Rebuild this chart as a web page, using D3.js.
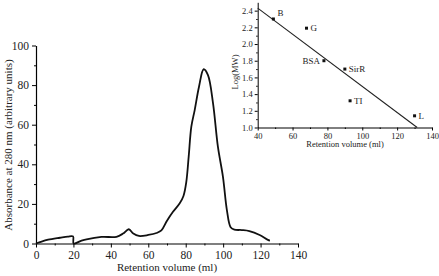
<!DOCTYPE html>
<html lang="en">
<head>
<meta charset="utf-8">
<script src="https://d3js.org/d3.v7.min.js"></script>
<style>
  body { margin: 0; background: #fff; }
  svg text { font-family: "Liberation Serif", "DejaVu Serif", serif; fill: #222; }
</style>
</head>
<body>
<svg id="chart" width="439" height="276"></svg>
<script>
// elution profile (retention volume ml, absorbance)
const volume = [0, 3, 6.5, 12.8, 17, 19.8, 20.1, 24, 27, 35, 43, 46.5, 49.6, 52, 55, 60, 64.4, 67, 70, 73.2, 76.8, 78.8, 80.3, 81.6, 83, 84.8, 87.1, 89.6, 91.9, 94.6, 97.2, 99.9, 102, 104, 106, 110, 114, 119.5, 123.9, 125];
const absorb = [0, 1, 1.9, 2.9, 3.5, 3.6, 0, 1.3, 2.1, 3.3, 3.4, 5, 7.2, 5, 3.8, 4.3, 5.3, 6.6, 11.5, 16, 20.3, 24, 31, 44, 59, 67.4, 79.2, 88, 85, 70.8, 48.9, 33.7, 16.9, 8.2, 7, 6.8, 6.3, 4.3, 1.8, 1.5];

// calibration standards
const stdNames = ["B", "G", "BSA", "SirR", "TI", "L"];
const stdVolume = [49, 68, 78, 90, 93, 130];
const stdLogMW = [2.3, 2.19, 1.8, 1.7, 1.32, 1.14];
// fitted line endpoints
const fitVolume = [40, 131.5];
const fitLogMW = [2.43, 1.0];

const svg = d3.select("#chart");

// ---- main chart
const x = d3.scaleLinear().domain([0, 140]).range([36, 298]);
const y = d3.scaleLinear().domain([0, 100]).range([243.5, 45.5]);

const xAx = svg.append("g").attr("transform", "translate(0,243.5)")
  .call(d3.axisBottom(x).tickValues(d3.range(0, 141, 20)).tickSize(4).tickSizeOuter(0).tickPadding(3));
svg.append("g").attr("transform", "translate(0,243.5)")
  .call(d3.axisBottom(x).tickValues(d3.range(10, 140, 20)).tickSize(2).tickFormat(""))
  .select(".domain").remove();
const yAx = svg.append("g").attr("transform", "translate(36,0)")
  .call(d3.axisLeft(y).tickValues(d3.range(0, 101, 20)).tickSize(4).tickSizeOuter(0).tickPadding(3));
svg.append("g").attr("transform", "translate(36,0)")
  .call(d3.axisLeft(y).tickValues(d3.range(10, 100, 20)).tickSize(2).tickFormat(""))
  .select(".domain").remove();
[xAx, yAx].forEach(g => {
  g.selectAll("text").style("font-size", "11.5px").style("font-family", "Liberation Serif");
  g.select(".domain").attr("stroke-width", 1.2);
});

svg.append("text")
  .attr("x", 167).attr("y", 271)
  .attr("text-anchor", "middle")
  .style("font-size", "11px")
  .text("Retention volume (ml)");
svg.append("text")
  .attr("transform", "translate(12,145) rotate(-90)")
  .attr("text-anchor", "middle")
  .style("font-size", "11px")
  .text("Absorbance at 280 nm (arbitrary units)");

const profile = volume.map((v, i) => ({v: v, a: absorb[i]}));
svg.append("path")
  .datum(profile)
  .attr("fill", "none")
  .attr("stroke", "#111")
  .attr("stroke-width", 1.8)
  .attr("stroke-linejoin", "round")
  .attr("d", d3.line().x(d => x(d.v)).y(d => y(d.a)).curve(d3.curveCatmullRom.alpha(0.5)));

// ---- inset calibration chart
const ix = d3.scaleLinear().domain([40, 140]).range([257.7, 432]);
const iy = d3.scaleLinear().domain([1.0, 2.5]).range([127.5, 2.3]);

const ixAx = svg.append("g").attr("transform", "translate(0,127.5)")
  .call(d3.axisBottom(ix).tickValues(d3.range(40, 141, 20)).tickSize(3).tickSizeOuter(0).tickPadding(2));
svg.append("g").attr("transform", "translate(0,127.5)")
  .call(d3.axisBottom(ix).tickValues(d3.range(50, 140, 20)).tickSize(1.5).tickFormat(""))
  .select(".domain").remove();
const iyAx = svg.append("g").attr("transform", "translate(257.7,0)")
  .call(d3.axisLeft(iy).tickValues(d3.range(1.0, 2.41, 0.2)).tickSize(3).tickSizeOuter(0).tickPadding(2).tickFormat(d3.format(".1f")));
svg.append("g").attr("transform", "translate(257.7,0)")
  .call(d3.axisLeft(iy).tickValues(d3.range(1.1, 2.5, 0.2)).tickSize(1.5).tickFormat(""))
  .select(".domain").remove();
[ixAx, iyAx].forEach(g => {
  g.selectAll("text").style("font-size", "8.5px").style("font-family", "Liberation Serif");
});

svg.append("text")
  .attr("x", 345).attr("y", 147)
  .attr("text-anchor", "middle")
  .style("font-size", "8.5px")
  .text("Retention volume (ml)");
svg.append("text")
  .attr("transform", "translate(238,72) rotate(-90)")
  .attr("text-anchor", "middle")
  .style("font-size", "8.5px")
  .text("Log(MW)");

svg.append("line")
  .attr("x1", ix(fitVolume[0])).attr("y1", iy(fitLogMW[0]))
  .attr("x2", ix(fitVolume[1])).attr("y2", iy(fitLogMW[1]))
  .attr("stroke", "#222").attr("stroke-width", 1.1);

const stds = stdNames.map((n, i) => ({n: n, v: stdVolume[i], m: stdLogMW[i]}));
svg.selectAll(".std").data(stds).join("rect")
  .attr("class", "std")
  .attr("x", d => ix(d.v) - 1.5).attr("y", d => iy(d.m) - 1.5)
  .attr("width", 3).attr("height", 3)
  .attr("fill", "#111");
svg.selectAll(".stdlab").data(stds).join("text")
  .attr("class", "stdlab")
  .attr("x", d => d.n === "BSA" ? ix(d.v) - 4 : ix(d.v) + 4)
  .attr("y", d => d.n === "B" ? iy(d.m) - 3 : iy(d.m) + 3)
  .attr("text-anchor", d => d.n === "BSA" ? "end" : "start")
  .style("font-size", "9px")
  .text(d => d.n);
</script>
</body>
</html>
